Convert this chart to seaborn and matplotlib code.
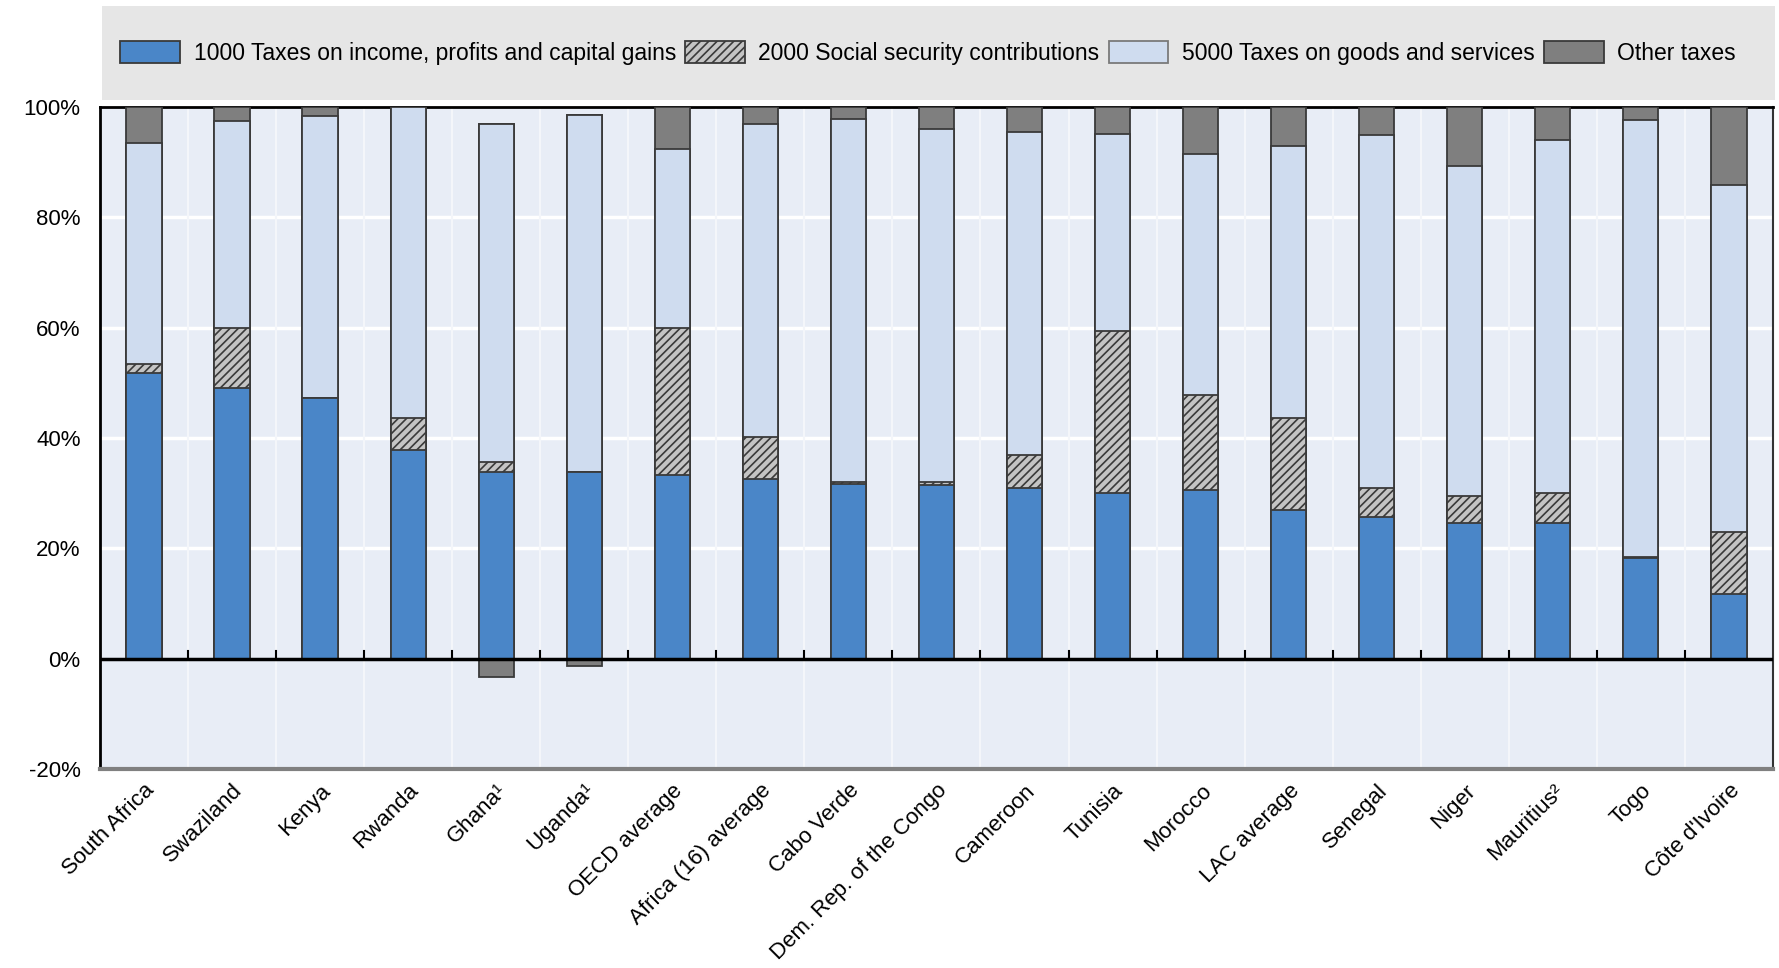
import pandas as pd
import numpy as np
from matplotlib import pyplot as plt
from matplotlib.patches import Patch, Rectangle
import seaborn as sns

# shares of total tax revenue (%)
countries = ["South Africa", "Swaziland", "Kenya", "Rwanda", "Ghana\u00b9", "Uganda\u00b9",
             "OECD average", "Africa (16) average", "Cabo Verde", "Dem. Rep. of the Congo",
             "Cameroon", "Tunisia", "Morocco", "LAC average", "Senegal", "Niger",
             "Mauritius\u00b2", "Togo", "C\u00f4te d'Ivoire"]
income = [51.7, 49.1, 47.2, 37.9, 33.8, 33.9, 33.3, 32.5, 31.6, 31.4,
          30.9, 30.0, 30.5, 27.0, 25.7, 24.5, 24.5, 18.3, 11.8]
social = [1.7, 10.8, 0.1, 5.8, 1.8, 0.0, 26.6, 7.6, 0.5, 0.6,
          6.1, 29.4, 17.3, 16.6, 5.2, 5.0, 5.5, 0.1, 11.2]
goods = [40.0, 37.6, 51.1, 56.3, 61.4, 64.7, 32.4, 56.9, 65.8, 64.0,
         58.4, 35.7, 43.7, 49.4, 64.0, 59.8, 64.0, 79.2, 62.9]
other = [6.6, 2.5, 1.6, 0.0, -3.3, -1.4, 7.7, 3.0, 2.1, 4.0,
         4.6, 4.9, 8.5, 7.0, 5.1, 10.7, 6.0, 2.4, 14.1]
legend_labels = ["1000 Taxes on income, profits and capital gains",
                 "2000 Social security contributions",
                 "5000 Taxes on goods and services",
                 "Other taxes"]

df = pd.DataFrame({"country": countries, "income": income, "social": social,
                   "goods": goods, "other": other})
df["top_social"] = df["income"] + df["social"]
df["top_goods"] = df["top_social"] + df["goods"]
df["top_other"] = df["top_goods"] + df["other"].clip(lower=0)
df["neg_other"] = df["other"].clip(upper=0)

c_inc, c_ssc, c_goods, c_oth = "#4a86c8", "#c4c4c4", "#cfdcef", "#7f7f7f"
edge = "#3a3a3a"

plt.rcParams["font.family"] = ["Liberation Sans", "DejaVu Sans"]
plt.rcParams["hatch.linewidth"] = 1.2

fig = plt.figure(figsize=(17.79, 9.68), dpi=100)
ax = fig.add_axes([0.0562, 0.2056, 0.9404, 0.6839])
ax.set_facecolor("#e8edf6")

# legend band
fig.patches.append(Rectangle((0.0573, 0.897), 0.9407, 0.097, transform=fig.transFigure,
                             facecolor="#e6e6e6", edgecolor="none", zorder=0))

# grid
for y in [-20, 20, 40, 60, 80]:
    ax.axhline(y, color="white", lw=2.5, zorder=0)
for i in range(len(countries) - 1):
    ax.axvline(i + 0.5, color="#f4f6fa", lw=1.5, zorder=0)

kw = dict(x="country", width=0.4, edgecolor=edge, linewidth=1.3, ax=ax, zorder=3,
          saturation=1)
sns.barplot(data=df, y="top_other", color=c_oth, **kw)
sns.barplot(data=df, y="top_goods", color=c_goods, **kw)
sns.barplot(data=df, y="top_social", color=c_ssc, hatch="////", **kw)
sns.barplot(data=df, y="income", color=c_inc, **kw)
sns.barplot(data=df, y="neg_other", color=c_oth, **kw)

ax.axhline(0, color="black", lw=2.5, zorder=4)
for i in range(len(countries) - 1):
    ax.plot([i + 0.5, i + 0.5], [0, 1.3], color="black", lw=1.5, zorder=4)

ax.set_xlim(-0.5, len(countries) - 0.5)
ax.set_ylim(-20, 100)
ax.set_yticks([-20, 0, 20, 40, 60, 80, 100])
ax.set_yticklabels([f"{v}%" for v in [-20, 0, 20, 40, 60, 80, 100]])
ax.tick_params(axis="y", length=0, pad=14, labelsize=16)
ax.tick_params(axis="x", length=0, pad=8, labelsize=16)
plt.setp(ax.get_xticklabels(), rotation=45, ha="right", rotation_mode="anchor")
ax.set_xlabel("")
ax.set_ylabel("")

ax.spines["left"].set_color("black")
ax.spines["left"].set_linewidth(2)
ax.spines["top"].set_color("black")
ax.spines["top"].set_linewidth(2)
ax.spines["right"].set_color("#333333")
ax.spines["right"].set_linewidth(1.5)
ax.spines["bottom"].set_color("#808080")
ax.spines["bottom"].set_linewidth(3)

handles = [Patch(facecolor=c_inc, edgecolor=edge, lw=1.3),
           Patch(facecolor=c_ssc, edgecolor=edge, lw=1.3, hatch="////"),
           Patch(facecolor=c_goods, edgecolor="#7a7a7a", lw=1.3),
           Patch(facecolor=c_oth, edgecolor=edge, lw=1.3)]
fig.legend(handles, legend_labels, loc="center left", bbox_to_anchor=(0.056, 0.945),
           ncol=4, frameon=False, fontsize=16.5, handlelength=2.6, handleheight=1.1,
           handletextpad=0.6, columnspacing=0.4)

plt.savefig("out.png", dpi=100)
